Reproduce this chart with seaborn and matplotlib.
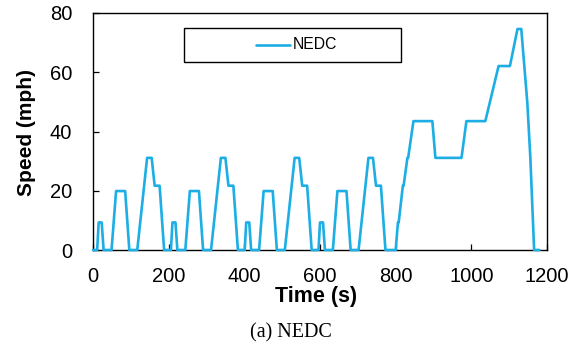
import matplotlib
matplotlib.use("Agg")
import matplotlib.pyplot as plt
import seaborn as sns
import pandas as pd
from matplotlib.patches import Rectangle

# NEDC speed trace breakpoints (time in s, speed in mph)
time_s = [
    0, 11, 15, 23, 28, 49, 61, 85, 96, 117, 143, 155, 163, 176, 188,
    195, 206, 210, 218, 223, 244, 256, 280, 291, 312, 338, 350, 358, 371, 383,
    390, 401, 405, 413, 418, 439, 451, 475, 486, 507, 533, 545, 553, 566, 578,
    585, 596, 600, 608, 613, 634, 646, 670, 681, 702, 728, 740, 748, 761, 773,
    780, 800, 806, 808, 819, 821, 831, 833, 847, 897, 905, 974, 987, 1037,
    1072, 1102, 1122, 1132, 1148, 1156, 1166, 1180,
]
speed_mph = [
    0, 0, 9.3, 9.3, 0, 0, 19.9, 19.9, 0, 0, 31.1, 31.1, 21.7, 21.7, 0,
    0, 0, 9.3, 9.3, 0, 0, 19.9, 19.9, 0, 0, 31.1, 31.1, 21.7, 21.7, 0,
    0, 0, 9.3, 9.3, 0, 0, 19.9, 19.9, 0, 0, 31.1, 31.1, 21.7, 21.7, 0,
    0, 0, 9.3, 9.3, 0, 0, 19.9, 19.9, 0, 0, 31.1, 31.1, 21.7, 21.7, 0,
    0, 0, 9.3, 9.3, 21.7, 21.7, 31.1, 31.1, 43.5, 43.5, 31.1, 31.1, 43.5, 43.5,
    62.1, 62.1, 74.6, 74.6, 49.7, 31.1, 0, 0,
]
series_name = "NEDC"
x_ticks = [0, 200, 400, 600, 800, 1000, 1200]
y_ticks = [0, 20, 40, 60, 80]

df = pd.DataFrame({"Time": time_s, "Speed": speed_mph, "Cycle": series_name})

sns.set_style("white")
plt.rcParams["font.family"] = ["Liberation Sans", "DejaVu Sans"]
plt.rcParams["text.color"] = "black"
plt.rcParams["axes.labelcolor"] = "black"

fig = plt.figure(figsize=(5.81, 3.45), dpi=100)
ax = fig.add_axes([93 / 581, 1 - 250 / 345, (547 - 93) / 581, (250 - 13) / 345])

line_color = "#1CAEE4"
sns.lineplot(data=df, x="Time", y="Speed", sort=False, color=line_color,
             linewidth=1.9, ax=ax, legend=False, clip_on=False, zorder=3)

ax.set_xlim(0, 1200)
ax.set_ylim(0, 80)
ax.set_xticks(x_ticks)
ax.set_yticks(y_ticks)
ax.tick_params(direction="in", length=4.5, width=0.9, colors="black",
               labelsize=14.5, bottom=True, left=True, top=False, right=False)
ax.tick_params(axis="x", pad=12)
ax.tick_params(axis="y", pad=15)
for s in ax.spines.values():
    s.set_color("black")
    s.set_linewidth(1.0)

ax.set_xlabel("Time (s)", fontsize=15.5, fontweight="bold")
ax.set_ylabel("Speed (mph)", fontsize=15, fontweight="bold")
ax.xaxis.set_label_coords(0.491, -0.150)
ax.yaxis.set_label_coords(-0.125, 0.496)

# legend box
ax.add_patch(Rectangle((0.200, 0.793), 0.478, 0.144, transform=ax.transAxes,
                       fill=True, facecolor="white", edgecolor="black",
                       linewidth=1.0, zorder=4))
ax.plot([0.360, 0.435], [0.865, 0.865], transform=ax.transAxes,
        color=line_color, linewidth=1.9, zorder=5)
ax.text(0.441, 0.865, series_name, transform=ax.transAxes, fontsize=11.3,
        va="center", ha="left", zorder=5)

fig.text(291 / 581, 1 - 333 / 345, "(a) NEDC", ha="center", va="center",
         fontsize=14.5, family=["Liberation Serif", "DejaVu Serif"])

fig.savefig("out.png", dpi=100)
